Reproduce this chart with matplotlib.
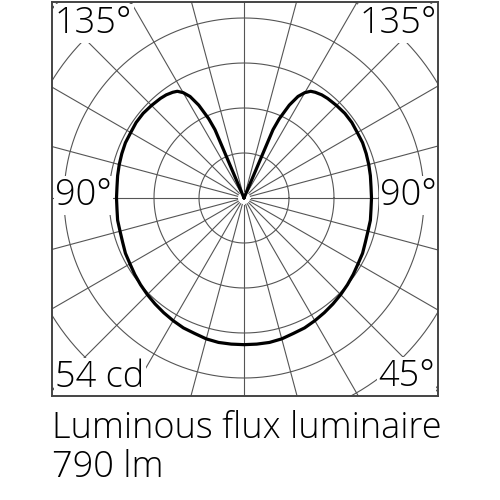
import numpy as np
import matplotlib
matplotlib.use("Agg")
import matplotlib.pyplot as plt

# Luminous intensity (cd) vs gamma angle (deg, 0 = nadir), symmetric curve
gamma = [0, 5, 10, 15, 20, 25, 30, 35, 40, 45, 50, 55, 60, 65, 70, 75, 80, 85, 90,
         95, 100, 105, 110, 115, 120, 125, 130, 135, 140, 143, 146, 148, 150, 152,
         154, 156, 157, 160, 180]
intensity = [176, 176, 176, 175, 173, 172, 170, 168, 166, 164, 162, 160, 158, 157, 155,
             154, 154, 153, 153, 153, 154, 155, 156, 157, 157, 158, 158, 157, 156, 155,
             153, 151, 146, 138, 124, 104, 89, 0, 0]
ring_step = 54
ring_count = 6
radial_angles = list(range(0, 360, 15))
corner_labels = ["135°", "135°", "90°", "90°", "54 cd", "45°"]
caption = ["Luminous flux luminaire", "790 lm"]

plt.rcParams['font.family'] = ['Open Sans', 'DejaVu Sans']

fig = plt.figure(figsize=(5, 5), dpi=100)
W = H = 500.0
ax = fig.add_axes([52 / W, 1 - 396 / H, 386 / W, 394 / H])
ax.set_xlim(-230.4, 232.8)
ax.set_ylim(-237.6, 235.2)
ax.set_xticks([])
ax.set_yticks([])
for s in ax.spines.values():
    s.set_color('#444444')
    s.set_linewidth(1.4)
    s.set_zorder(4)

grid_c = '#555555'
t = np.linspace(0, 2 * np.pi, 721)
for k in range(1, ring_count + 1):
    r = ring_step * k
    ax.plot(r * np.cos(t), r * np.sin(t), color=grid_c, lw=0.8, zorder=1)
for a in radial_angles:
    ar = np.deg2rad(a)
    ax.plot([8.0 * np.sin(ar), 500 * np.sin(ar)], [-8.0 * np.cos(ar), -500 * np.cos(ar)],
            color=grid_c, lw=0.8, zorder=1)

g = np.deg2rad(np.array(gamma, dtype=float))
I = np.array(intensity, dtype=float)
xr = I * np.sin(g)
yr = -I * np.cos(g)
x_full = np.concatenate([-xr[::-1], xr])
y_full = np.concatenate([yr[::-1], yr])
ax.plot(x_full, y_full, color='black', lw=2.3, zorder=3,
        solid_joinstyle='round', solid_capstyle='round')

fs = 26
fw = 'light'
bb = dict(facecolor='white', edgecolor='none', pad=1.0)
def ftext(x, y, s, ha='left'):
    ax.text(x / W, 1 - y / H, s, ha=ha, va='baseline', fontsize=fs,
            fontweight=fw, color='black', bbox=bb, zorder=2,
            transform=fig.transFigure, clip_on=False)

ftext(55, 33, corner_labels[0])
ftext(437, 33, corner_labels[1], ha='right')
ftext(55, 205, corner_labels[2])
ftext(437, 205, corner_labels[3], ha='right')
ftext(55, 387, corner_labels[4])
ftext(435, 386, corner_labels[5], ha='right')

fig.text(52 / W, 1 - 438 / H, caption[0], ha='left', va='baseline', fontsize=fs,
         fontweight=fw, color='black')
fig.text(52 / W, 1 - 477 / H, caption[1], ha='left', va='baseline', fontsize=fs,
         fontweight=fw, color='black')

fig.savefig('out.png', dpi=100, facecolor='white')
